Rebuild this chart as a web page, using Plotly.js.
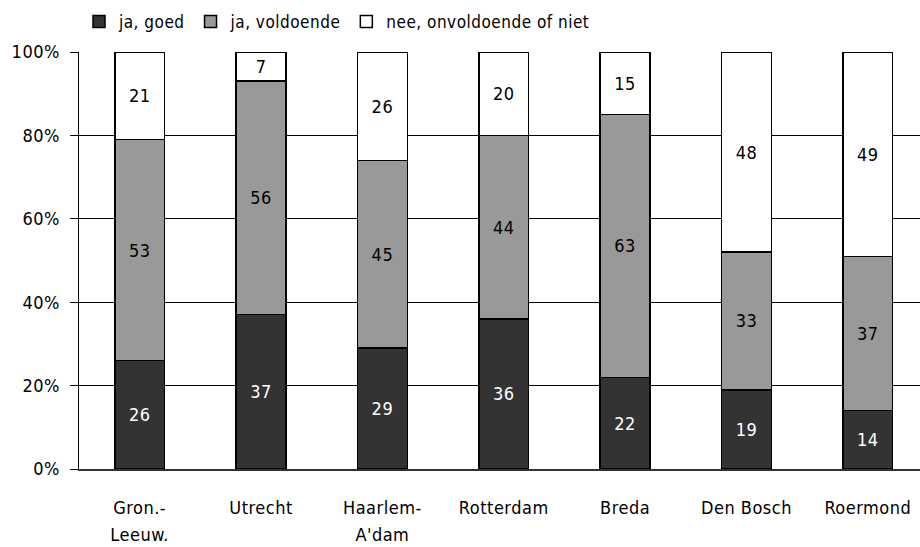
<!DOCTYPE html>
<html>
<head>
<meta charset="utf-8">
<script src="https://cdn.plot.ly/plotly-3.0.1.min.js"></script>
<style>
html,body{margin:0;padding:0;background:#fff;}
svg text{letter-spacing:0.5px;}
</style>
</head>
<body>
<div id="chart" style="width:920px;height:547px;"></div>
<script>
var categories = ["Gron.-<br>Leeuw.", "Utrecht", "Haarlem-<br>A'dam", "Rotterdam", "Breda", "Den Bosch", "Roermond"];
var seriesNames = ["ja, goed", "ja, voldoende", "nee, onvoldoende of niet"];
var goed = [26, 37, 29, 36, 22, 19, 14];
var voldoende = [53, 56, 45, 44, 63, 33, 37];
var niet = [21, 7, 26, 20, 15, 48, 49];
var yTickVals = [0, 20, 40, 60, 80, 100];
var yTickText = ["0%", "20%", "40%", "60%", "80%", "100%"];

var FONT = "DejaVu Sans Condensed, Liberation Sans, sans-serif";
var colors = ["#333333", "#999999", "#ffffff"];
var textColors = ["#ffffff", "#000000", "#000000"];
var seriesValues = [goed, voldoende, niet];
var xIdx = categories.map(function(c, i){ return i; });
var firstLines = categories.map(function(c){ return c.split("<br>")[0]; });
var secondIdx = [], secondLines = [];
categories.forEach(function(c, i){
  var parts = c.split("<br>");
  if (parts.length > 1) { secondIdx.push(i); secondLines.push(parts[1]); }
});

var traces = seriesValues.map(function(vals, k){
  return {
    type: "bar",
    name: seriesNames[k],
    x: xIdx,
    y: vals,
    text: vals.map(String),
    textposition: "inside",
    insidetextanchor: "middle",
    textangle: 0,
    constraintext: "none",
    textfont: {family: FONT, size: 18, color: textColors[k]},
    marker: {color: colors[k], line: {color: "#000000", width: 1.5}},
    hoverinfo: "none"
  };
});
traces.push({
  type: "scatter", mode: "markers", x: secondIdx, y: secondIdx.map(function(){return 0;}),
  xaxis: "x2", yaxis: "y", marker: {opacity: 0, size: 1}, showlegend: false, hoverinfo: "none"
});

var axisFont = {family: FONT, size: 18, color: "#000000"};
var layout = {
  width: 920,
  height: 547,
  margin: {l: 79, r: 0, t: 52, b: 78},
  paper_bgcolor: "#ffffff",
  plot_bgcolor: "#ffffff",
  barmode: "stack",
  bargap: 0.59,
  font: {family: FONT, size: 18, color: "#000000"},
  showlegend: true,
  legend: {
    orientation: "h",
    traceorder: "normal",
    x: 0.0,
    xanchor: "left",
    y: 1.072,
    yanchor: "middle",
    font: {family: FONT, size: 17, color: "#000000"},
    itemwidth: 30,
    bgcolor: "rgba(0,0,0,0)"
  },
  xaxis: {
    type: "linear",
    range: [-0.5, 6.43],
    tickvals: xIdx,
    ticktext: firstLines,
    ticks: "",
    showgrid: false,
    zeroline: false,
    showline: true,
    linecolor: "#333333",
    linewidth: 1.5,
    ticklabelstandoff: 22,
    tickfont: axisFont,
    fixedrange: true
  },
  xaxis2: {
    type: "linear",
    overlaying: "x",
    anchor: "y",
    side: "bottom",
    range: [-0.5, 6.43],
    tickvals: secondIdx,
    ticktext: secondLines,
    ticks: "",
    showgrid: false,
    zeroline: false,
    showline: false,
    ticklabelstandoff: 53,
    tickfont: axisFont,
    fixedrange: true
  },
  yaxis: {
    range: [0, 100],
    tickvals: yTickVals,
    ticktext: yTickText,
    ticks: "outside",
    ticklen: 8,
    tickwidth: 1,
    tickcolor: "#000000",
    showgrid: true,
    gridcolor: "#000000",
    gridwidth: 1,
    zeroline: false,
    showline: true,
    linecolor: "#000000",
    linewidth: 1.5,
    tickfont: axisFont,
    ticklabelstandoff: 6,
    fixedrange: true
  }
};

Plotly.newPlot("chart", traces, layout, {displayModeBar: false, staticPlot: true});
</script>
</body>
</html>
